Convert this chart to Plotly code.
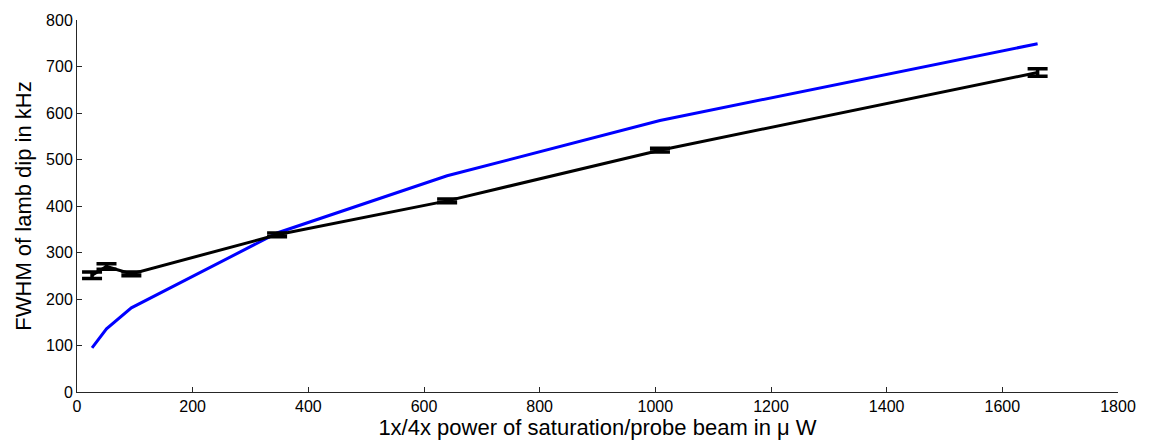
import plotly.graph_objects as go

# Measured (black, with error bars)
x_meas = [26, 51, 94, 346, 640, 1008, 1661]
y_meas = [251, 270, 254, 338, 411, 520, 687]
y_err = [7, 6, 4, 4, 4, 4, 8]

# Model (blue)
x_model = [26, 51, 94, 346, 640, 1008, 1661]
y_model = [95, 136, 181, 342, 465, 584, 749]

x_ticks = [0, 200, 400, 600, 800, 1000, 1200, 1400, 1600, 1800]
y_ticks = [0, 100, 200, 300, 400, 500, 600, 700, 800]

font = "Liberation Sans, Arial, sans-serif"

fig = go.Figure()
fig.add_trace(go.Scatter(
    x=x_model, y=y_model, mode="lines",
    line=dict(color="#0000ff", width=3), showlegend=False, hoverinfo="skip"))
fig.add_trace(go.Scatter(
    x=x_meas, y=y_meas, mode="lines",
    line=dict(color="#000000", width=3),
    error_y=dict(type="data", array=y_err, visible=True, color="#000000",
                 thickness=3.5, width=10),
    showlegend=False))

axis_common = dict(
    showgrid=False, zeroline=False, showline=True, linecolor="#262626",
    linewidth=1, ticks="inside", ticklen=5, tickcolor="#262626",
    tickfont=dict(family=font, size=16, color="#000000"), mirror=False)

fig.update_layout(
    width=1150, height=445,
    margin=dict(l=77, r=32, t=17, b=53),
    paper_bgcolor="white", plot_bgcolor="white",
    font=dict(family=font, color="#000000"),
    xaxis=dict(range=[0, 1800], tickvals=x_ticks,
               title=dict(text="1x/4x power of saturation/probe beam in \u03bc W",
                          font=dict(family=font, size=22), standoff=2),
               **axis_common),
    yaxis=dict(range=[0, 800], tickvals=y_ticks,
               title=dict(text="FWHM of lamb dip in kHz",
                          font=dict(family=font, size=22), standoff=8),
               **axis_common),
)

fig.write_html("out.html")
